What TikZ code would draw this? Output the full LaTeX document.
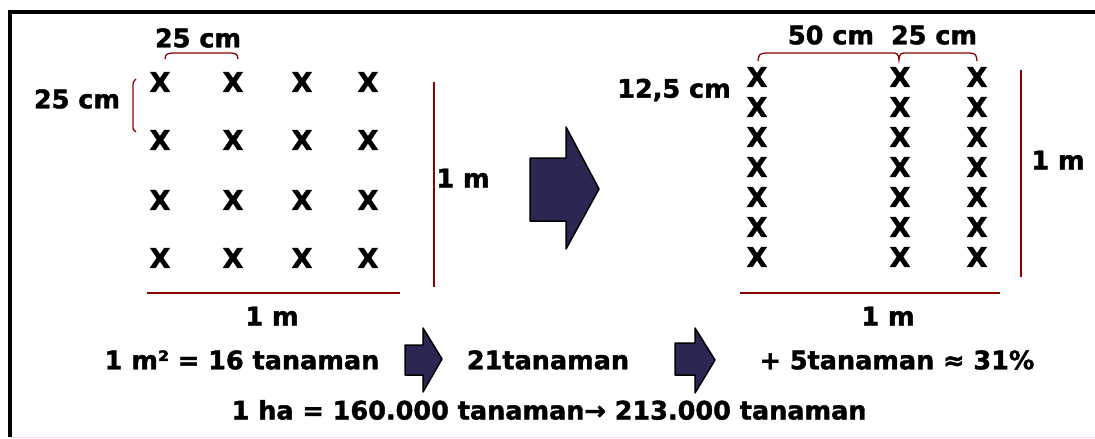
\documentclass[tikz,border=0pt]{standalone}
\usepackage{fontspec}
\setmainfont{DejaVu Sans}[BoldFeatures={FakeBold=1.6}]
\begin{document}
\begin{tikzpicture}[x=1pt,y=-1pt,
  lbl/.style={font=\fontsize{25.5}{28}\selectfont\bfseries, inner sep=0pt, text=black},
  mk/.style={font=\fontsize{27}{30}\selectfont\bfseries, inner sep=0pt, text=black},
  rline/.style={draw=red!55!black, line width=1.8pt},
  bigarrow/.style={draw=black, line width=1.5pt, fill=navyfill, line join=round},
  frame/.style={draw=black, line width=3.5pt}]
\definecolor{navyfill}{RGB}{42,40,82}
\useasboundingbox (0,0) rectangle (1095,439);
% frame
\coordinate (f1) at (10,437);
\coordinate (f2) at (10,12);
\coordinate (f3) at (1095,12);
\coordinate (f4) at (1095,437);
\draw[frame] (f1) -- (f2) -- (f3);
\draw[draw=red!15, line width=1pt] (f1) -- (f4);

% left grid
\foreach \c [count=\i] in {160,233,302,368}
  \foreach \r [count=\j] in {82,140,200,258}
    \node[mk] (L\i\j) at (\c,\r) {X};
\node[lbl] (t25a) at (198,38) {25 cm};
\coordinate (b1a) at (165,59); \coordinate (b1b) at (238,59);
\draw[rline, line width=1.3pt] (b1a) .. controls (166,54) .. (172,53) -- (232,53) .. controls (237,54) .. (b1b);
\node[lbl] (t25b) at (77,99) {25 cm};
\coordinate (v1a) at (136,79); \coordinate (v1b) at (136,132);
\draw[rline, line width=1.3pt] (v1a) .. controls (133,82) .. (133,88) -- (133,124) .. controls (133,130) .. (v1b);
\coordinate (r1a) at (434,82); \coordinate (r1b) at (434,287);
\draw[rline] (r1a) -- (r1b);
\node[lbl] (m1) at (463,178) {1 m};
\coordinate (h1a) at (147,293); \coordinate (h1b) at (400,293);
\draw[rline] (h1a) -- (h1b);
\node[lbl] (m2) at (272,316) {1 m};

% big arrow
\coordinate (A1) at (530,158);
\coordinate (A2) at (566,158);
\coordinate (A3) at (566,127);
\coordinate (A4) at (599,189);
\coordinate (A5) at (566,249);
\coordinate (A6) at (566,221);
\coordinate (A7) at (530,221);
\draw[bigarrow] (A1) -- (A2) -- (A3) -- (A4) -- (A5) -- (A6) -- (A7) -- cycle;

% right grid
\foreach \c [count=\i] in {757,900,977}
  \foreach \r [count=\j] in {77,107,137,167,197,227,257}
    \node[mk] (R\i\j) at (\c,\r) {X};
\node[lbl] (t50) at (831,35) {50 cm};
\node[lbl] (t25c) at (934,35) {25 cm};
\coordinate (b2a) at (758,61); \coordinate (b2m) at (899,60); \coordinate (b2b) at (977,61);
\draw[rline, line width=1.3pt] (b2a) .. controls (759,54) .. (766,53) -- (890,53) .. controls (898,53) .. (b2m)
   .. controls (900,53) .. (908,53) -- (970,53) .. controls (976,54) .. (b2b);
\node[lbl] (t125) at (674,90) {12,5 cm};
\coordinate (r2a) at (1021,70); \coordinate (r2b) at (1021,277);
\draw[rline] (r2a) -- (r2b);
\node[lbl] (m3) at (1058,160) {1 m};
\coordinate (h2a) at (740,293); \coordinate (h2b) at (1000,293);
\draw[rline] (h2a) -- (h2b);
\node[lbl] (m4) at (888,316) {1 m};

% bottom
\node[lbl] (s1) at (242,360) {1 m² = 16 tanaman};
\node[lbl] (s2) at (548,360) {21tanaman};
\node[lbl] (s3) at (897,360) {+ 5tanaman ≈ 31\%};
\node[lbl] (s4) at (549,410) {1 ha = 160.000 tanaman→ 213.000 tanaman};

\coordinate (a1) at (405,345); \coordinate (a2) at (423,345); \coordinate (a3) at (423,328);
\coordinate (a4) at (442,359); \coordinate (a5) at (423,392); \coordinate (a6) at (423,375);
\coordinate (a7) at (405,375);
\draw[bigarrow] (a1) -- (a2) -- (a3) -- (a4) -- (a5) -- (a6) -- (a7) -- cycle;
\coordinate (c1) at (675,343); \coordinate (c2) at (695,343); \coordinate (c3) at (695,328);
\coordinate (c4) at (715,360); \coordinate (c5) at (695,393); \coordinate (c6) at (695,375);
\coordinate (c7) at (675,375);
\draw[bigarrow] (c1) -- (c2) -- (c3) -- (c4) -- (c5) -- (c6) -- (c7) -- cycle;
\end{tikzpicture}
\end{document}
